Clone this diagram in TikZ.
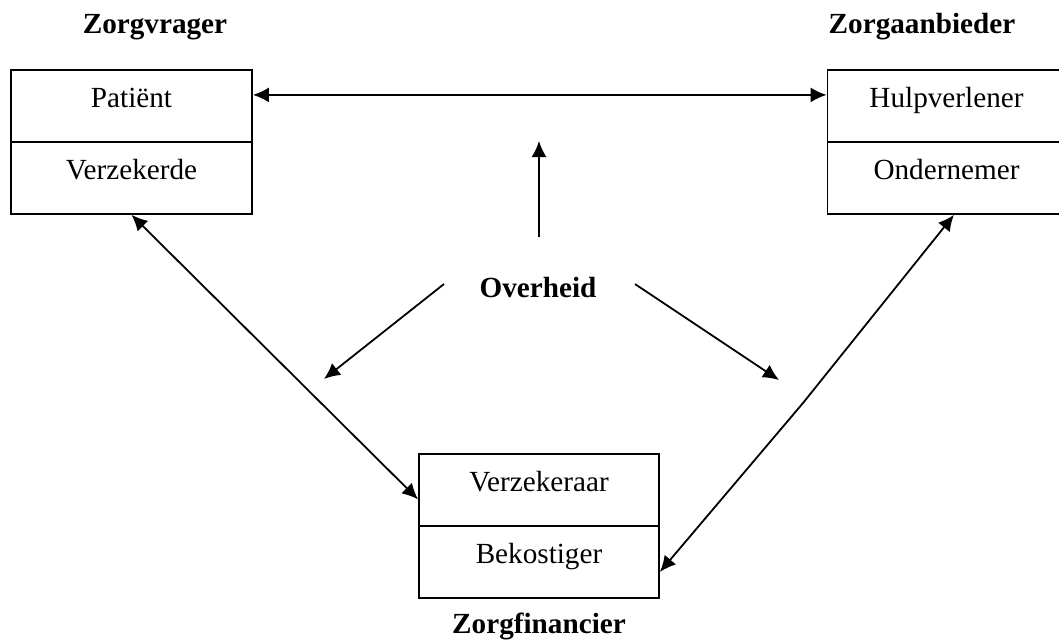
\documentclass[tikz,border=0pt]{standalone}
\usepackage{fontspec}
\setmainfont{Liberation Serif}
\usetikzlibrary{arrows.meta}
\newcommand{\role}[1]{\textbf{#1}}

\begin{document}
\begin{tikzpicture}[x=0.5pt,y=-0.5pt,line width=0.9pt,>={Latex[length=8pt,width=7.5pt]},
    every node/.style={font=\fontsize{14.6}{17}\selectfont},
    cell/.style={draw,anchor=north,inner xsep=0pt,inner ysep=0pt,text height=19pt,text depth=17pt}]
    \clip (0,0) rectangle (1059,639);
    % zorgvrager
    \node[anchor=base] (vrager) at (155,33) {\role{Zorgvrager}};
    \node[cell,minimum width=120.5pt] (pat) at (131.5,69) {Patiënt};
    \node[cell,minimum width=120.5pt] (verz) at (131.5,141) {Verzekerde};
    % zorgaanbieder
    \node[anchor=base] (aanbieder) at (922,33) {\role{Zorgaanbieder}};
    \node[cell,minimum width=119pt] (hulp) at (946.5,69) {Hulpverlener};
    \node[cell,minimum width=119pt] (ond) at (946.5,141) {Ondernemer};
    % zorgfinancier
    \node[cell,minimum width=120pt] (vzk) at (539,453) {Verzekeraar};
    \node[cell,minimum width=120pt] (bek) at (539,525) {Bekostiger};
    \node[anchor=base] (financier) at (539,633) {\role{Zorgfinancier}};
    % overheid
    \node[anchor=base] (gov) at (538,297) {\role{Overheid}};
    \coordinate (govN) at (539,237);
    \coordinate (govW) at (444,284);
    \coordinate (govE) at (635,284);
    \coordinate (relN) at (539,141);
    \coordinate (relW) at (324,379);
    \coordinate (relE) at (779,380);
    \coordinate (bend) at (803,403);
    \path[<->] ([yshift=5.5pt]pat.east) edge ([yshift=5.5pt]hulp.west);
    \path[<->] (verz.south) edge ([yshift=-4.75pt]vzk.west);
    \draw[<->] ([xshift=3.75pt]ond.south) -- (bend) -- ([yshift=-5pt]bek.east);
    \path[->] (govN) edge (relN);
    \path[->] (govW) edge (relW);
    \path[->] (govE) edge (relE);
\end{tikzpicture}
\end{document}
